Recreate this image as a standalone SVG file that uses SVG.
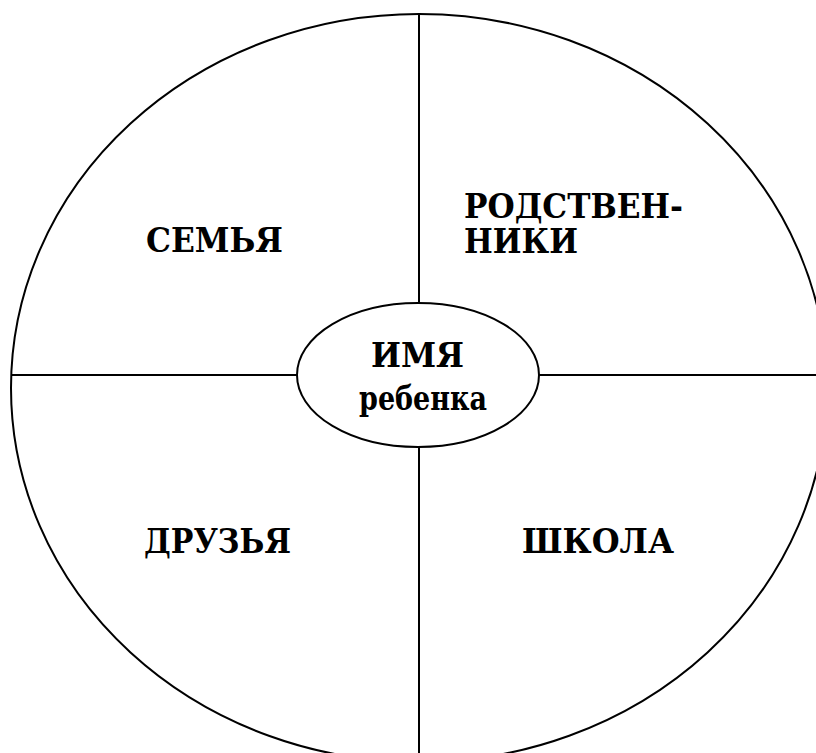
<svg xmlns="http://www.w3.org/2000/svg" width="816" height="753" viewBox="0 0 816 753">
<style>
.shape{fill:none;stroke:#000;stroke-width:2}
.line{stroke:#000;stroke-width:2}
.t{font-family:'DejaVu Serif','Liberation Serif',serif;font-weight:700;font-size:34px;fill:#000}
</style>
<rect x="0" y="0" width="816" height="753" fill="#fff"/>
<g id="outer">
<ellipse class="shape" cx="419" cy="388" rx="408" ry="374"/>
</g>
<g id="connectors">
<line class="line" x1="419" y1="14" x2="419" y2="303"/>
<line class="line" x1="419" y1="447" x2="419" y2="753"/>
<line class="line" x1="11" y1="375" x2="297" y2="375"/>
<line class="line" x1="539" y1="375" x2="816" y2="375"/>
</g>
<g id="semya">
<text class="t" x="146" y="252" textLength="137" lengthAdjust="spacingAndGlyphs">СЕМЬЯ</text>
</g>
<g id="rodstvenniki">
<text class="t"><tspan x="464" y="218" textLength="219" lengthAdjust="spacingAndGlyphs">РОДСТВЕН-</tspan><tspan x="464" y="253" textLength="114" lengthAdjust="spacingAndGlyphs">НИКИ</tspan></text>
</g>
<g id="druzya">
<text class="t" x="144" y="553" textLength="147" lengthAdjust="spacingAndGlyphs">ДРУЗЬЯ</text>
</g>
<g id="shkola">
<text class="t" x="522" y="553" textLength="152" lengthAdjust="spacingAndGlyphs">ШКОЛА</text>
</g>
<g id="center">
<ellipse class="shape" cx="418" cy="375" rx="121" ry="72" fill="#fff"/>
<text class="t" x="371" y="367" textLength="93" lengthAdjust="spacingAndGlyphs">ИМЯ</text>
<text class="t" x="359" y="410" font-size="40" textLength="128" lengthAdjust="spacingAndGlyphs">ребенка</text>
</g>
</svg>
